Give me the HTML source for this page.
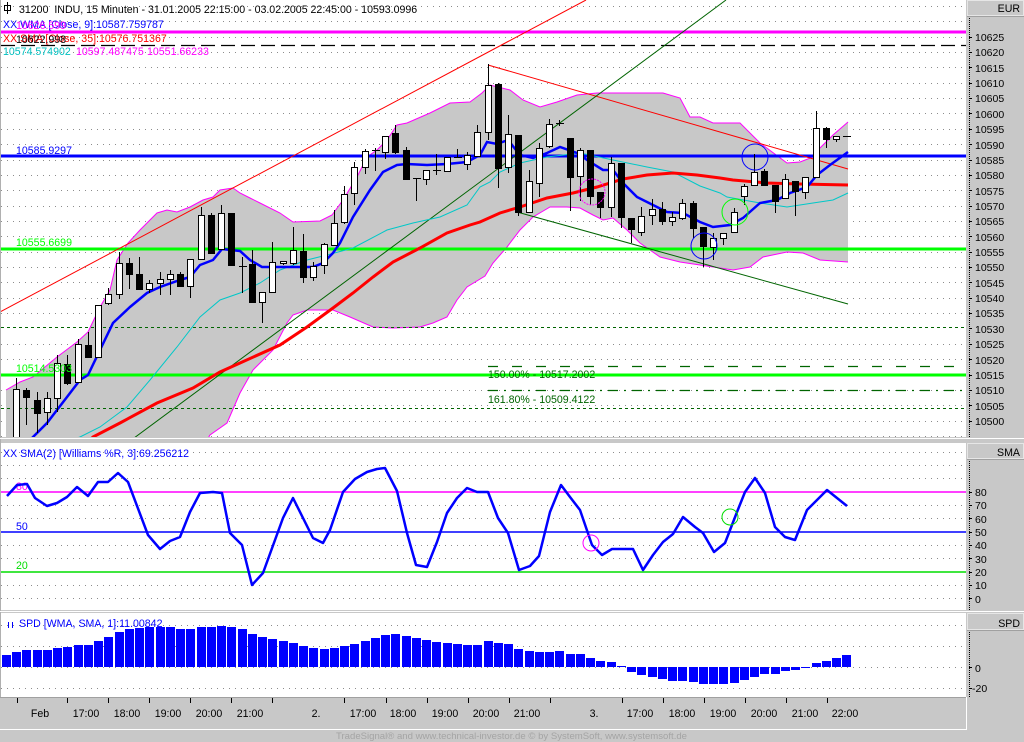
<!DOCTYPE html>
<html><head><meta charset="utf-8"><style>
html,body{margin:0;padding:0;background:#c8c8c8;}
svg{display:block;font-family:"Liberation Sans",Arial,sans-serif;}
</style></head><body>
<svg width="1024" height="742" viewBox="0 0 1024 742" xmlns="http://www.w3.org/2000/svg">
<rect x="0" y="0" width="1024" height="742" fill="#c8c8c8"/>
<defs>
<clipPath id="cp"><rect x="1" y="0" width="965" height="437"/></clipPath>
<clipPath id="cs"><rect x="1" y="443" width="965" height="167"/></clipPath>
</defs>

<!-- ===== PRICE PANEL ===== -->
<rect x="1" y="0" width="965" height="437" fill="#fff"/>
<g clip-path="url(#cp)">
<path d="M1 6.5H966M1 21.5H966M1 37.5H966M1 52.5H966M1 67.5H966M1 83.5H966M1 98.5H966M1 113.5H966M1 129.5H966M1 144.5H966M1 160.5H966M1 175.5H966M1 190.5H966M1 206.5H966M1 221.5H966M1 236.5H966M1 252.5H966M1 267.5H966M1 282.5H966M1 298.5H966M1 313.5H966M1 344.5H966M1 359.5H966M1 390.5H966M1 405.5H966M1 421.5H966M1 436.5H966" stroke="#8c8c8c" stroke-width="1" stroke-dasharray="1 5" fill="none"/>
<!-- bollinger fill -->
<polygon fill="#c8c8c8" points="6,390 20,382 33,377 57,357 77,342 88,332 100,307 110,290 117,260 128,243 140,230 157,213 167,210 177,212 190,207 203,200 213,197 220,190 233,188 240,193 250,198 260,203 280,213 293,222 320,221 332,215 343,200 357,177 367,157 377,150 387,140 397,125 407,123 430,113 450,103 470,102 482,93 490,85 510,90 523,100 540,107 557,102 577,95 597,93 630,93 663,93 680,98 690,117 700,117 713,123 740,123 750,133 760,143 787,163 800,162 813,157 820,148 833,135 848,122 848,262 820,260 803,253 787,252 763,257 750,267 733,270 720,268 700,265 680,262 660,257 640,243 627,230 613,218 603,220 593,215 580,208 567,207 550,207 533,217 520,230 507,247 493,263 485,276 467,287 457,300 447,317 433,323 420,327 393,328 373,327 350,317 333,310 307,310 293,315 287,323 273,350 253,370 240,393 227,423 210,435 195,460 6,460"/>
<polyline fill="none" stroke="#ff00ff" stroke-width="1" points="6,390 20,382 33,377 57,357 77,342 88,332 100,307 110,290 117,260 128,243 140,230 157,213 167,210 177,212 190,207 203,200 213,197 220,190 233,188 240,193 250,198 260,203 280,213 293,222 320,221 332,215 343,200 357,177 367,157 377,150 387,140 397,125 407,123 430,113 450,103 470,102 482,93 490,85 510,90 523,100 540,107 557,102 577,95 597,93 630,93 663,93 680,98 690,117 700,117 713,123 740,123 750,133 760,143 787,163 800,162 813,157 820,148 833,135 848,122"/>
<polyline fill="none" stroke="#ff00ff" stroke-width="1" points="848,262 820,260 803,253 787,252 763,257 750,267 733,270 720,268 700,265 680,262 660,257 640,243 627,230 613,218 603,220 593,215 580,208 567,207 550,207 533,217 520,230 507,247 493,263 485,276 467,287 457,300 447,317 433,323 420,327 393,328 373,327 350,317 333,310 307,310 293,315 287,323 273,350 253,370 240,393 227,423 210,435 195,460"/>

<!-- horizontal lines -->
<line x1="1" y1="32" x2="966" y2="32" stroke="#ff00ff" stroke-width="3"/>
<line x1="1" y1="45.5" x2="966" y2="45.5" stroke="#000" stroke-width="1.3" stroke-dasharray="14 6"/>
<line x1="1" y1="156" x2="966" y2="156" stroke="#0000ff" stroke-width="3"/>
<line x1="1" y1="249" x2="966" y2="249" stroke="#00ff00" stroke-width="3"/>
<line x1="1" y1="375" x2="966" y2="375" stroke="#00ff00" stroke-width="3"/>
<line x1="1" y1="327.5" x2="966" y2="327.5" stroke="#006400" stroke-width="1" stroke-dasharray="3 3"/>
<line x1="1" y1="408.5" x2="966" y2="408.5" stroke="#006400" stroke-width="1" stroke-dasharray="3 3"/>
<line x1="488" y1="366.5" x2="966" y2="366.5" stroke="#006400" stroke-width="1.2" stroke-dasharray="10 14"/>
<line x1="488" y1="390.5" x2="966" y2="390.5" stroke="#006400" stroke-width="1.2" stroke-dasharray="10 6 2 6"/>

<!-- trend lines -->
<line x1="0" y1="312" x2="586" y2="0" stroke="#ff0000" stroke-width="1"/>
<line x1="488" y1="65" x2="848" y2="169" stroke="#ff0000" stroke-width="1"/>
<line x1="130" y1="441" x2="726" y2="0" stroke="#006400" stroke-width="1"/>
<line x1="517" y1="212" x2="848" y2="304" stroke="#006400" stroke-width="1"/>

<!-- moving averages -->
<polyline fill="none" stroke="#00c8c8" stroke-width="1" points="70,440 80,437 100,427 127,407 150,380 177,347 200,317 220,300 240,293 260,283 280,270 307,260 327,255 353,248 387,230 413,223 440,217 467,205 480,187 490,182 500,172 520,163 547,157 580,153 613,160 647,167 673,172 700,186 720,193 727,197 760,203 787,207 813,203 833,200 848,193"/>
<polyline fill="none" stroke="#ff0000" stroke-width="3" points="85,445 93,437 120,423 157,403 193,388 220,372 240,363 280,345 307,327 333,308 353,293 373,277 393,262 420,248 447,233 470,225 480,222 500,213 520,207 547,198 573,193 597,187 623,179 647,175 673,173 697,175 720,178 733,180 767,183 800,184 848,185"/>
<polyline fill="none" stroke="#0000ff" stroke-width="2.5" points="25,445 33,437 47,423 67,397 80,380 88,375 100,350 113,323 130,307 147,293 160,287 180,280 190,277 200,265 213,260 222,249 240,251 250,260 262,267 277,267 313,267 323,263 333,253 340,243 353,217 370,190 383,172 397,165 407,164 427,165 447,164 467,162 480,155 487,142 497,144 508,140 520,155 533,158 547,153 560,147 577,153 590,162 603,170 613,170 623,183 637,197 653,205 667,212 683,213 700,222 713,227 730,225 743,218 760,203 777,200 790,193 807,187 817,175 830,165 848,152"/>

<!-- candles: wicks -->
<path fill="none" stroke="#000" stroke-width="1" d="M16.5 378V437M26.5 388V425M37.5 392V433M47.5 392V425M57.5 355V412M67.5 355V385M78.5 339V382M88.5 332V358M98.5 305V357M108.5 288V305M119.5 252V299M129.5 258V289M139.5 257V290M149.5 280V293M160.5 272V295M170.5 270V295M180.5 272V287M190.5 259V298M201.5 207V259M211.5 213V253M221.5 205V250M231.5 213V265M242.5 257V293M252.5 250V302M262.5 292V323M272.5 242V292M283.5 261V265M293.5 227V265M303.5 234V283M313.5 262V281M324.5 243V274M334.5 210V245M344.5 186V224M354.5 162V205M365.5 149V174M375.5 148V171M385.5 136V159M395.5 125V154M406.5 147V179M416.5 178V201M426.5 170V185M436.5 154V175M447.5 157V172M457.5 149V157M467.5 152V170M477.5 125V156M488.5 64V140M498.5 83V188M508.5 115V173M518.5 135V216M529.5 170V212M539.5 143V197M549.5 119V148M559.5 120V126M570.5 138V211M580.5 148V201M590.5 150V205M600.5 192V218M611.5 157V217M621.5 163V228M631.5 218V243M641.5 207V236M652.5 199V225M662.5 202V225M672.5 212V226M682.5 199V220M693.5 201V238M703.5 227V267M713.5 233V260M723.5 233V245M734.5 208V232M744.5 184V205M754.5 154V185M764.5 169V185M775.5 185V213M785.5 174V198M795.5 181V216M805.5 177V199M816.5 111V177M826.5 127V148M836.5 136V142M239 266.5H247M372 150.5H380M413 178.5H421M433 170.5H441M454 157.5H462M556 123.5H564M843 136.5H851"/>
<!-- white bodies -->
<g fill="#fff" stroke="#000" stroke-width="1">
<rect x="13.5" y="389.5" width="6" height="51"/>
<rect x="44.5" y="398.5" width="6" height="14"/>
<rect x="54.5" y="363.5" width="6" height="35"/>
<rect x="75.5" y="344.5" width="6" height="38"/>
<rect x="95.5" y="305.5" width="6" height="52"/>
<rect x="105.5" y="294.5" width="6" height="9"/>
<rect x="116.5" y="263.5" width="6" height="31"/>
<rect x="146.5" y="283.5" width="6" height="6"/>
<rect x="157.5" y="279.5" width="6" height="4"/>
<rect x="167.5" y="274.5" width="6" height="5"/>
<rect x="187.5" y="259.5" width="6" height="27"/>
<rect x="198.5" y="215.5" width="6" height="44"/>
<rect x="218.5" y="213.5" width="6" height="36"/>
<rect x="259.5" y="292.5" width="6" height="10"/>
<rect x="269.5" y="262.5" width="6" height="30"/>
<rect x="280.5" y="261.5" width="6" height="2"/>
<rect x="290.5" y="250.5" width="6" height="13"/>
<rect x="310.5" y="266.5" width="6" height="11"/>
<rect x="321.5" y="244.5" width="6" height="21"/>
<rect x="331.5" y="223.5" width="6" height="22"/>
<rect x="341.5" y="194.5" width="6" height="28"/>
<rect x="351.5" y="167.5" width="6" height="26"/>
<rect x="362.5" y="151.5" width="6" height="16"/>
<rect x="382.5" y="136.5" width="6" height="16"/>
<rect x="423.5" y="170.5" width="6" height="9"/>
<rect x="444.5" y="157.5" width="6" height="14"/>
<rect x="464.5" y="155.5" width="6" height="9"/>
<rect x="474.5" y="132.5" width="6" height="24"/>
<rect x="485.5" y="85.5" width="6" height="47"/>
<rect x="505.5" y="134.5" width="6" height="33"/>
<rect x="526.5" y="181.5" width="6" height="31"/>
<rect x="536.5" y="148.5" width="6" height="35"/>
<rect x="546.5" y="124.5" width="6" height="22"/>
<rect x="577.5" y="150.5" width="6" height="26"/>
<rect x="608.5" y="163.5" width="6" height="44"/>
<rect x="638.5" y="216.5" width="6" height="16"/>
<rect x="649.5" y="209.5" width="6" height="6"/>
<rect x="669.5" y="217.5" width="6" height="4"/>
<rect x="679.5" y="203.5" width="6" height="15"/>
<rect x="710.5" y="238.5" width="6" height="9"/>
<rect x="720.5" y="233.5" width="6" height="5"/>
<rect x="731.5" y="212.5" width="6" height="20"/>
<rect x="741.5" y="186.5" width="6" height="10"/>
<rect x="751.5" y="172.5" width="6" height="13"/>
<rect x="782.5" y="179.5" width="6" height="19"/>
<rect x="802.5" y="177.5" width="6" height="15"/>
<rect x="813.5" y="128.5" width="6" height="49"/>
<rect x="833.5" y="136.5" width="6" height="3"/>
</g>
<!-- black bodies -->
<g fill="#000" stroke="#000" stroke-width="1">
<rect x="23.5" y="390.5" width="6" height="7"/>
<rect x="34.5" y="400.5" width="6" height="13"/>
<rect x="64.5" y="364.5" width="6" height="19"/>
<rect x="85.5" y="345.5" width="6" height="12"/>
<rect x="126.5" y="263.5" width="6" height="11"/>
<rect x="136.5" y="274.5" width="6" height="15"/>
<rect x="177.5" y="274.5" width="6" height="12"/>
<rect x="208.5" y="215.5" width="6" height="38"/>
<rect x="228.5" y="213.5" width="6" height="52"/>
<rect x="249.5" y="264.5" width="6" height="38"/>
<rect x="300.5" y="251.5" width="6" height="26"/>
<rect x="392.5" y="133.5" width="6" height="19"/>
<rect x="403.5" y="150.5" width="6" height="29"/>
<rect x="495.5" y="84.5" width="6" height="84"/>
<rect x="515.5" y="135.5" width="6" height="77"/>
<rect x="567.5" y="138.5" width="6" height="39"/>
<rect x="587.5" y="150.5" width="6" height="46"/>
<rect x="597.5" y="192.5" width="6" height="15"/>
<rect x="618.5" y="163.5" width="6" height="54"/>
<rect x="628.5" y="218.5" width="6" height="11"/>
<rect x="659.5" y="209.5" width="6" height="12"/>
<rect x="690.5" y="203.5" width="6" height="25"/>
<rect x="700.5" y="227.5" width="6" height="19"/>
<rect x="761.5" y="171.5" width="6" height="14"/>
<rect x="772.5" y="185.5" width="6" height="16"/>
<rect x="792.5" y="181.5" width="6" height="10"/>
<rect x="823.5" y="128.5" width="6" height="11"/>
</g>
<!-- circles -->
<circle cx="592" cy="192" r="13" fill="none" stroke="#ff00ff" stroke-width="1" stroke-dasharray="2 1"/>
<circle cx="704" cy="246" r="13" fill="none" stroke="#0000ff" stroke-width="1"/>
<circle cx="735" cy="212" r="13" fill="none" stroke="#00ff00" stroke-width="1"/>
<circle cx="755" cy="157" r="13" fill="none" stroke="#0000ff" stroke-width="1"/>

<!-- labels in price panel -->
<g font-size="10.6">
<text x="16" y="154" fill="#0000ff">10585.9297</text>
<text x="16" y="246" fill="#00ff00">10555.6699</text>
<text x="16" y="372" fill="#00ff00">10514.5303</text>
<text x="488" y="378" fill="#006400">150.00% - 10517.2002</text>
<text x="488" y="403" fill="#006400">161.80% - 10509.4122</text>
</g>
</g>

<!-- title & legend -->
<g font-size="10.6">
<rect x="4.5" y="5.5" width="6" height="5" fill="none" stroke="#000" stroke-width="1"/>
<line x1="7.5" y1="2" x2="7.5" y2="14" stroke="#000" stroke-width="1"/>
<text x="19" y="13" fill="#000" xml:space="preserve">31200  INDU, 15 Minuten - 31.01.2005 22:15:00 - 03.02.2005 22:45:00 - 10593.0996</text>
<text x="3" y="28" fill="#0000ff">XX WMA [Close, 9]:10587.759787</text>
<text x="16" y="29" fill="#ff00ff">10626.599</text>
<text x="3" y="42" fill="#ff0000">XX SMA [Close, 35]:10576.751367</text>
<text x="16" y="43" fill="#000">10622.998</text>
<text x="3" y="55" fill="#00c0c0">10574.574902</text>
<text x="76" y="55" fill="#ff00ff">10597.487475</text>
<text x="147" y="55" fill="#ff00ff">10551.66233</text>
</g>

<!-- ===== SMA PANEL ===== -->
<rect x="1" y="443" width="965" height="167" fill="#fff"/>
<g clip-path="url(#cs)">
<path d="M1 452.5H966M1 465.5H966M1 478.5H966M1 505.5H966M1 518.5H966M1 545.5H966M1 558.5H966M1 585.5H966M1 598.5H966" stroke="#8c8c8c" stroke-width="1" stroke-dasharray="1 5" fill="none"/>
<line x1="1" y1="492" x2="966" y2="492" stroke="#ff00ff" stroke-width="1.5"/>
<line x1="1" y1="532" x2="966" y2="532" stroke="#0000ff" stroke-width="1.5"/>
<line x1="1" y1="572" x2="966" y2="572" stroke="#00dd00" stroke-width="1.5"/>
<g font-size="10.6">
<text x="16" y="490" fill="#ff00ff">80</text>
<text x="16" y="530" fill="#0000ff">50</text>
<text x="16" y="569" fill="#00dd00">20</text>
</g>
<polyline fill="none" stroke="#0000ff" stroke-width="2.5" stroke-linejoin="round" points="7,496 17,485 27,484 35,498 47,506 57,503 67,497 77,487 88,496 98,482 108,482 118,473 128,482 148,535 160,549 170,541 180,537 190,512 200,493 213,492 222,493 230,533 242,545 252,585 263,573 283,518 293,498 313,538 323,543 330,530 343,492 355,479 367,472 377,469 385,468 397,491 407,533 416,565 427,567 437,542 447,513 457,498 467,488 477,492 488,492 498,518 508,533 519,570 530,566 539,556 550,512 561,485 570,497 580,510 592,545 602,555 612,549 633,549 643,570 653,555 663,542 673,534 683,517 695,527 703,533 714,552 725,543 737,512 745,492 755,478 765,493 775,527 785,537 795,540 807,510 817,500 827,490 837,498 847,506"/>
<circle cx="591" cy="543" r="8" fill="none" stroke="#ff00ff" stroke-width="1"/>
<circle cx="730" cy="517" r="8" fill="none" stroke="#00dd00" stroke-width="1"/>
<text x="3" y="457" font-size="10.6" fill="#0000ff">XX SMA(2) [Williams %R, 3]:69.256212</text>
</g>

<!-- ===== SPD PANEL ===== -->
<rect x="1" y="613" width="965" height="84" fill="#fff"/>
<path d="M1 625.5H966M1 646.5H966M1 667.5H966M1 688.5H966" stroke="#8c8c8c" stroke-width="1" stroke-dasharray="1 5" fill="none"/>
<g fill="#0000ff">
<rect x="2" y="655" width="9" height="12"/><rect x="12" y="652" width="9" height="15"/><rect x="22" y="650" width="9" height="17"/><rect x="33" y="650" width="9" height="17"/><rect x="43" y="650" width="9" height="17"/><rect x="53" y="648" width="9" height="19"/><rect x="63" y="647" width="9" height="20"/><rect x="74" y="645" width="9" height="22"/><rect x="84" y="645" width="9" height="22"/><rect x="94" y="641" width="9" height="26"/><rect x="104" y="637" width="9" height="30"/><rect x="115" y="632" width="9" height="35"/><rect x="125" y="629" width="9" height="38"/><rect x="135" y="628" width="9" height="39"/><rect x="145" y="627" width="9" height="40"/><rect x="156" y="627" width="9" height="40"/><rect x="166" y="627" width="9" height="40"/><rect x="176" y="629" width="9" height="38"/><rect x="186" y="629" width="9" height="38"/><rect x="197" y="627" width="9" height="40"/><rect x="207" y="627" width="9" height="40"/><rect x="217" y="626" width="9" height="41"/><rect x="227" y="627" width="9" height="40"/><rect x="238" y="629" width="9" height="38"/><rect x="248" y="634" width="9" height="33"/><rect x="258" y="637" width="9" height="30"/><rect x="268" y="639" width="9" height="28"/><rect x="279" y="641" width="9" height="26"/><rect x="289" y="643" width="9" height="24"/><rect x="299" y="646" width="9" height="21"/><rect x="309" y="648" width="9" height="19"/><rect x="320" y="649" width="9" height="18"/><rect x="330" y="648" width="9" height="19"/><rect x="340" y="646" width="9" height="21"/><rect x="350" y="644" width="9" height="23"/><rect x="361" y="641" width="9" height="26"/><rect x="371" y="638" width="9" height="29"/><rect x="381" y="635" width="9" height="32"/><rect x="391" y="634" width="9" height="33"/><rect x="402" y="636" width="9" height="31"/><rect x="412" y="638" width="9" height="29"/><rect x="422" y="640" width="9" height="27"/><rect x="432" y="642" width="9" height="25"/><rect x="443" y="643" width="9" height="24"/><rect x="453" y="644" width="9" height="23"/><rect x="463" y="645" width="9" height="22"/><rect x="473" y="645" width="9" height="22"/><rect x="484" y="641" width="9" height="26"/><rect x="494" y="643" width="9" height="24"/><rect x="504" y="644" width="9" height="23"/><rect x="514" y="649" width="9" height="18"/><rect x="525" y="651" width="9" height="16"/><rect x="535" y="652" width="9" height="15"/><rect x="545" y="652" width="9" height="15"/><rect x="555" y="651" width="9" height="16"/><rect x="566" y="654" width="9" height="13"/><rect x="576" y="654" width="9" height="13"/><rect x="586" y="658" width="9" height="9"/><rect x="596" y="661" width="9" height="6"/><rect x="607" y="662" width="9" height="5"/><rect x="617" y="666" width="9" height="1"/>
<rect x="627" y="667" width="9" height="5"/><rect x="637" y="667" width="9" height="8"/><rect x="648" y="667" width="9" height="10"/><rect x="658" y="667" width="9" height="12"/><rect x="668" y="667" width="9" height="14"/><rect x="678" y="667" width="9" height="14"/><rect x="689" y="667" width="9" height="15"/><rect x="699" y="667" width="9" height="17"/><rect x="709" y="667" width="9" height="17"/><rect x="719" y="667" width="9" height="17"/><rect x="730" y="667" width="9" height="16"/><rect x="740" y="667" width="9" height="13"/><rect x="750" y="667" width="9" height="10"/><rect x="760" y="667" width="9" height="7"/><rect x="771" y="667" width="9" height="7"/><rect x="781" y="667" width="9" height="4"/><rect x="791" y="667" width="9" height="3"/><rect x="801" y="667" width="9" height="1"/>
<rect x="812" y="663" width="9" height="4"/><rect x="822" y="661" width="9" height="6"/><rect x="832" y="658" width="9" height="9"/><rect x="842" y="655" width="9" height="12"/>
</g>
<line x1="8.5" y1="622" x2="8.5" y2="628" stroke="#0000ff" stroke-width="1"/>
<line x1="12.5" y1="622" x2="12.5" y2="628" stroke="#0000ff" stroke-width="1"/>
<text x="19" y="627" font-size="10.6" fill="#0000ff">SPD [WMA, SMA, 1]:11.00842</text>

<!-- ===== X AXIS ===== -->
<line x1="0" y1="697.5" x2="966" y2="697.5" stroke="#a0a0a0" stroke-width="1"/>
<line x1="0" y1="729.5" x2="966" y2="729.5" stroke="#fff" stroke-width="1"/>
<line x1="966.5" y1="697" x2="966.5" y2="730" stroke="#fff" stroke-width="1"/>
<path d="M17.5 698V703M67.5 698V703M108.5 698V703M149.5 698V703M190.5 698V703M231.5 698V703M272.5 698V703M344.5 698V703M386.5 698V703M427.5 698V703M468.5 698V703M509.5 698V703M550.5 698V703M622.5 698V703M663.5 698V703M704.5 698V703M745.5 698V703M786.5 698V703M827.5 698V703" stroke="#000" stroke-width="1"/>
<g font-size="10.6" fill="#000" text-anchor="middle">
<text x="40" y="717">Feb</text><text x="86" y="717">17:00</text><text x="127" y="717">18:00</text><text x="168" y="717">19:00</text><text x="209" y="717">20:00</text><text x="250" y="717">21:00</text>
<text x="316" y="717">2.</text><text x="363" y="717">17:00</text><text x="403" y="717">18:00</text><text x="445" y="717">19:00</text><text x="486" y="717">20:00</text><text x="527" y="717">21:00</text>
<text x="594" y="717">3.</text><text x="640" y="717">17:00</text><text x="682" y="717">18:00</text><text x="723" y="717">19:00</text><text x="764" y="717">20:00</text><text x="805" y="717">21:00</text><text x="845" y="717">22:00</text>
</g>
<text x="336" y="739" font-size="9.5" fill="#a4a4a4" textLength="351" lengthAdjust="spacingAndGlyphs">TradeSignal® and www.technical-investor.de © by SystemSoft, www.systemsoft.de</text>

<!-- ===== RIGHT AXIS ===== -->
<line x1="0.5" y1="0" x2="0.5" y2="697" stroke="#b0b0b0" stroke-width="1"/>
<g fill="#c8c8c8" stroke-width="1">
<rect x="967.5" y="0.5" width="56" height="15" stroke="#e6e6e6"/>
<rect x="967.5" y="443.5" width="56" height="15" stroke="#e6e6e6"/>
<rect x="967.5" y="613.5" width="56" height="16" stroke="#e6e6e6"/>
</g>
<line x1="967" y1="16.5" x2="1024" y2="16.5" stroke="#a0a0a0" stroke-width="1"/>
<line x1="967" y1="459.5" x2="1024" y2="459.5" stroke="#a0a0a0" stroke-width="1"/>
<line x1="967" y1="630.5" x2="1024" y2="630.5" stroke="#a0a0a0" stroke-width="1"/>
<line x1="0" y1="438.5" x2="1024" y2="438.5" stroke="#fff" stroke-width="1"/>
<line x1="0" y1="611.5" x2="1024" y2="611.5" stroke="#fff" stroke-width="1"/>
<g font-size="10.6" fill="#000" text-anchor="end">
<text x="1020" y="12">EUR</text>
<text x="1020" y="456">SMA</text>
<text x="1020" y="627">SPD</text>
</g>
<path d="M969.5 18V437M969.5 461V610M969.5 632V697" stroke="#000" stroke-width="1" stroke-dasharray="1 1"/>
<path d="M969 37.5h3M969 52.5h3M969 67.5h3M969 83.5h3M969 98.5h3M969 113.5h3M969 129.5h3M969 144.5h3M969 160.5h3M969 175.5h3M969 190.5h3M969 206.5h3M969 221.5h3M969 236.5h3M969 252.5h3M969 267.5h3M969 282.5h3M969 298.5h3M969 313.5h3M969 328.5h3M969 344.5h3M969 359.5h3M969 375.5h3M969 390.5h3M969 405.5h3M969 421.5h3M969 492.5h3M969 505.5h3M969 518.5h3M969 532.5h3M969 545.5h3M969 558.5h3M969 572.5h3M969 585.5h3M969 598.5h3M969 667.5h3M969 688.5h3" stroke="#000" stroke-width="1"/>
<g font-size="10.5" fill="#000">
<text x="975" y="41">10625</text><text x="975" y="56">10620</text><text x="975" y="72">10615</text><text x="975" y="87">10610</text><text x="975" y="102">10605</text><text x="975" y="118">10600</text><text x="975" y="133">10595</text><text x="975" y="149">10590</text><text x="975" y="164">10585</text><text x="975" y="179">10580</text><text x="975" y="195">10575</text><text x="975" y="210">10570</text><text x="975" y="225">10565</text><text x="975" y="241">10560</text><text x="975" y="256">10555</text><text x="975" y="271">10550</text><text x="975" y="287">10545</text><text x="975" y="302">10540</text><text x="975" y="317">10535</text><text x="975" y="333">10530</text><text x="975" y="348">10525</text><text x="975" y="364">10520</text><text x="975" y="379">10515</text><text x="975" y="394">10510</text><text x="975" y="410">10505</text><text x="975" y="425">10500</text>
<text x="975" y="496">80</text><text x="975" y="509">70</text><text x="975" y="523">60</text><text x="975" y="536">50</text><text x="975" y="549">40</text><text x="975" y="563">30</text><text x="975" y="576">20</text><text x="975" y="589">10</text><text x="975" y="603">0</text>
<text x="975" y="672">0</text><text x="972" y="692">-20</text>
</g>
</svg>
</body></html>
